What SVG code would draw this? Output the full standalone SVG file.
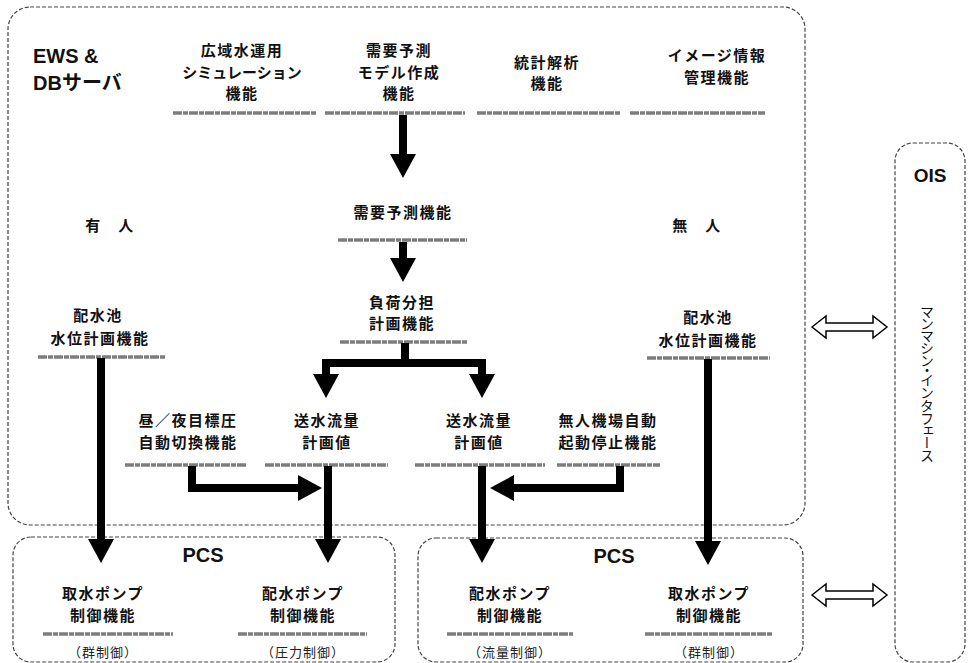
<svg xmlns="http://www.w3.org/2000/svg" width="969" height="663" viewBox="0 0 969 663">
<defs>
<style>
.box{fill:none;stroke:#444;stroke-width:1.2;stroke-dasharray:4 2}
.t{font-family:"Noto Sans CJK JP","Liberation Sans",sans-serif;font-size:15px;font-weight:700;fill:#111;text-anchor:middle;letter-spacing:1.5px}
.s{font-family:"Noto Sans CJK JP",sans-serif;font-size:13px;font-weight:400;fill:#222;text-anchor:middle;letter-spacing:1px}
.h{font-family:"Liberation Sans","Noto Sans CJK JP",sans-serif;font-size:20px;font-weight:700;fill:#111}
.u{stroke:#7d7d7d;stroke-width:3.5;stroke-dasharray:9 1 5 1}
.a{fill:none;stroke:#000;stroke-width:8;stroke-linejoin:miter}
.d{fill:#fff;stroke:#000;stroke-width:1.5;stroke-linejoin:miter}
</style>
<marker id="ah" viewBox="0 0 24 26" refX="0" refY="13" markerWidth="24" markerHeight="26" markerUnits="userSpaceOnUse" orient="auto">
<path d="M0,0 L24,13 L0,26 Z" fill="#000"/>
</marker>
</defs>
<rect width="969" height="663" fill="#fff"/>

<g id="ews">
<rect class="box" x="8" y="7" width="797" height="518" rx="22"/>
<text class="h" x="33" y="63">EWS &amp;</text>
<text class="h" x="33" y="90">DBサーバ</text>
</g>
<g id="pcs-left"><rect class="box" x="13" y="537" width="382" height="125" rx="18"/><text class="h" x="203" y="562" text-anchor="middle">PCS</text></g>
<g id="pcs-right"><rect class="box" x="418" y="538" width="385" height="124" rx="18"/><text class="h" x="614" y="563" text-anchor="middle">PCS</text></g>
<g id="ois"><rect class="box" x="895" y="143" width="70" height="519" rx="18"/>
<text class="h" x="930" y="182" text-anchor="middle" style="font-size:19px">OIS</text>
<text x="927" y="305" style="writing-mode:vertical-rl;font-family:'Noto Sans CJK JP',sans-serif;font-size:14px;fill:#111;font-feature-settings:'vpal'">マンマシン・インタフェース</text>
</g>

<g id="n-kouiki"><text class="t" x="242" y="56">広域水運用</text><text class="t" x="242" y="78" style="letter-spacing:0">シミュレーション</text><text class="t" x="242" y="99">機能</text><line class="u" x1="173" y1="113" x2="317" y2="113"/></g>
<g id="n-model"><text class="t" x="399" y="56">需要予測</text><text class="t" x="399" y="78">モデル作成</text><text class="t" x="399" y="99">機能</text><line class="u" x1="325" y1="113" x2="465" y2="113"/></g>
<g id="n-toukei"><text class="t" x="547" y="68">統計解析</text><text class="t" x="547" y="89">機能</text><line class="u" x1="477" y1="113" x2="620" y2="113"/></g>
<g id="n-image"><text class="t" x="717" y="61">イメージ情報</text><text class="t" x="717" y="83">管理機能</text><line class="u" x1="630" y1="113" x2="765" y2="113"/></g>
<g id="n-juyo"><text class="t" x="403" y="218">需要予測機能</text><line class="u" x1="338" y1="240" x2="467" y2="240"/></g>
<g id="l-yuujin"><text class="t" x="110" y="231" xml:space="preserve">有　人</text></g>
<g id="l-mujin"><text class="t" x="697" y="231" xml:space="preserve">無　人</text></g>
<g id="n-fuka"><text class="t" x="402" y="308">負荷分担</text><text class="t" x="402" y="329">計画機能</text><line class="u" x1="340" y1="342" x2="468" y2="342"/></g>
<g id="n-haisuichi-l"><text class="t" x="98" y="321">配水池</text><text class="t" x="100" y="344">水位計画機能</text><line class="u" x1="38" y1="357" x2="165" y2="357"/></g>
<g id="n-haisuichi-r"><text class="t" x="708" y="323">配水池</text><text class="t" x="708" y="346">水位計画機能</text><line class="u" x1="647" y1="358" x2="770" y2="358"/></g>
<g id="n-chuuya"><text class="t" x="188" y="426">昼／夜目標圧</text><text class="t" x="188" y="448">自動切換機能</text><line class="u" x1="125" y1="465" x2="247" y2="465"/></g>
<g id="n-sousui-l"><text class="t" x="327" y="426">送水流量</text><text class="t" x="327" y="448">計画値</text><line class="u" x1="265" y1="465" x2="388" y2="465"/></g>
<g id="n-sousui-r"><text class="t" x="479" y="426">送水流量</text><text class="t" x="479" y="448">計画値</text><line class="u" x1="415" y1="465" x2="545" y2="465"/></g>
<g id="n-mujinki"><text class="t" x="608" y="426">無人機場自動</text><text class="t" x="608" y="448">起動停止機能</text><line class="u" x1="557" y1="465" x2="660" y2="465"/></g>
<g id="n-shusui-l"><text class="t" x="103" y="599">取水ポンプ</text><text class="t" x="103" y="621">制御機能</text><line class="u" x1="43" y1="634" x2="173" y2="634"/><text class="s" x="103" y="657">（群制御）</text></g>
<g id="n-haisui-l"><text class="t" x="303" y="599">配水ポンプ</text><text class="t" x="303" y="621">制御機能</text><line class="u" x1="238" y1="634" x2="367" y2="634"/><text class="s" x="303" y="657">（圧力制御）</text></g>
<g id="n-haisui-r"><text class="t" x="510" y="599">配水ポンプ</text><text class="t" x="510" y="621">制御機能</text><line class="u" x1="447" y1="634" x2="573" y2="634"/><text class="s" x="510" y="657">（流量制御）</text></g>
<g id="n-shusui-r"><text class="t" x="709" y="599">取水ポンプ</text><text class="t" x="709" y="621">制御機能</text><line class="u" x1="645" y1="634" x2="772" y2="634"/><text class="s" x="709" y="657">（群制御）</text></g>

<g id="connectors">
<path class="a" marker-end="url(#ah)" d="M403,115 V154"/>
<path class="a" marker-end="url(#ah)" d="M403,242 V258"/>
<path class="a" marker-end="url(#ah)" d="M405,343 V363 H326 V374"/>
<path class="a" marker-end="url(#ah)" d="M405,363 H482 V374"/>
<path class="a" marker-end="url(#ah)" d="M101,358 V539"/>
<path class="a" marker-end="url(#ah)" d="M192,466 V488 H298"/>
<path class="a" marker-end="url(#ah)" d="M328,466 V539"/>
<path class="a" marker-end="url(#ah)" d="M482,466 V539"/>
<path class="a" marker-end="url(#ah)" d="M620,466 V488 H514"/>
<path class="a" marker-end="url(#ah)" d="M708,359 V541"/>
<path class="d" d="M812,327 L826,316 L826,323 L873,323 L873,316 L887,327 L873,338 L873,331 L826,331 L826,338 Z"/>
<path class="d" d="M812,595 L826,584 L826,591 L873,591 L873,584 L887,595 L873,606 L873,599 L826,599 L826,606 Z"/>
</g>
</svg>
